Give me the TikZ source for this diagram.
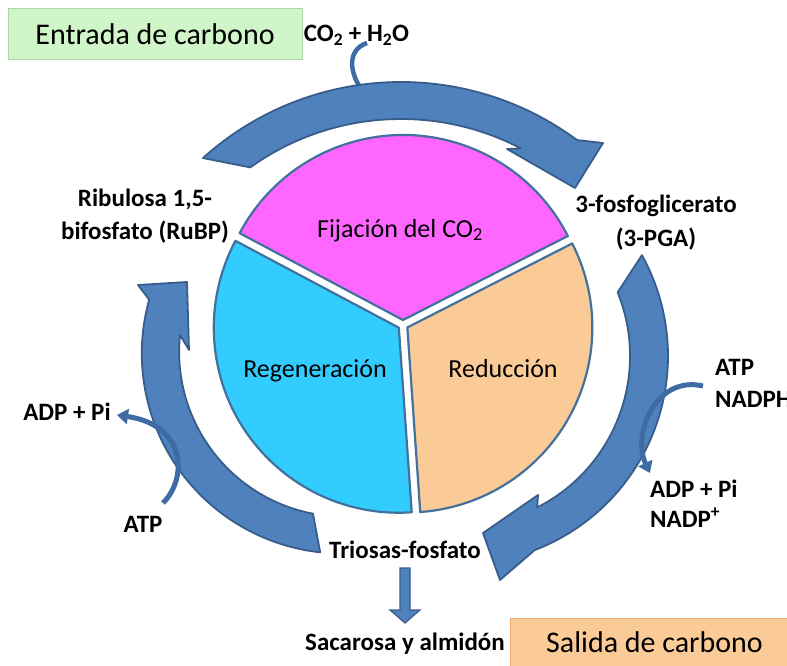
\documentclass[tikz,border=0pt]{standalone}
\usepackage{fontspec}
\setmainfont{Carlito}
\usetikzlibrary{arrows.meta}
\definecolor{arrfill}{HTML}{4F81BD}
\definecolor{arredge}{HTML}{385D8A}
\definecolor{smallarr}{HTML}{3E6BA3}
\definecolor{secedge}{HTML}{41719C}
\definecolor{pinkc}{HTML}{FF66FF}
\definecolor{bluec}{HTML}{33CCFF}
\definecolor{peachc}{HTML}{FBCB97}
\definecolor{greenbox}{HTML}{D0F5C8}
\definecolor{greenedge}{HTML}{A8D9A0}
\definecolor{peachedge}{HTML}{EDAA70}
\begin{document}
\begin{tikzpicture}[x=1pt,y=-1pt,
  lbl/.style={font=\fontsize{25}{30}\selectfont\bfseries, inner sep=0pt, anchor=base},
  inlbl/.style={font=\fontsize{26}{30}\selectfont, inner sep=0pt, anchor=base},
  ttl/.style={font=\fontsize{30}{36}\selectfont, inner sep=0pt, anchor=base},
  bigarrow/.style={fill=arrfill, draw=arredge, line width=1.8pt, line join=round},
  sector/.style={draw=secedge, line width=2.2pt, line join=round},
  thinarr/.style={draw=smallarr, line width=5pt},
  tipA/.style={-{Triangle[length=11pt,width=15pt]}}]
\useasboundingbox (0,0) rectangle (787,666);
\clip (0,0) rectangle (787,666);
\fill[white] (0,0) rectangle (787,666);

% title boxes
\node[draw=greenedge, fill=greenbox, line width=1pt, minimum width=294pt, minimum height=51pt, inner sep=0pt] (entradabox) at (155,34.5) {};
\node[ttl] (entrada) at (155,45) {Entrada de carbono};
\filldraw[draw=peachedge, fill=peachc, line width=1pt] (510,618) rectangle (800,690);
\node[ttl] (salida) at (654.5,652) {Salida de carbono};

% pie sectors
\filldraw[sector, fill=pinkc, shift={(0,-5)}] (403,325) -- ++(208:185) arc[start angle=208, end angle=333, radius=185] -- cycle;
\filldraw[sector, fill=bluec, shift={(-4.2,2.7)}] (403,325) -- ++(86:185) arc[start angle=86, end angle=208, radius=185] -- cycle;
\filldraw[sector, fill=peachc, shift={(4.35,2.46)}] (403,325) -- ++(-27:185) arc[start angle=-27, end angle=86, radius=185] -- cycle;

\node[inlbl] (fij) at (400,237) {Fijación del CO\textsubscript{2}};
\node[inlbl] (regen) at (315,377) {Regeneración};
\node[inlbl] (reduc) at (503,377) {Reducción};

% CO2 input arrow (under the big arrow)
\coordinate (co2s) at (367,43);
\coordinate (co2e) at (362,90);
\draw[draw=smallarr, line width=4.5pt] (co2s) .. controls (346,50) and (350,74) .. (co2e);

% big cycle arrows
\filldraw[bigarrow] ([shift={(401,378)}]228:296) arc[start angle=228, end angle=306.5, radius=296]
  -- (603,143) -- (575,188) -- (507,149) -- ([shift={(401,378)}]297.6:259)
  arc[start angle=297.6, end angle=234.4, radius=259] -- cycle;
\filldraw[bigarrow] ([shift={(460,356)}]-29:208) arc[start angle=-29, end angle=69, radius=208]
  -- (500,580) -- (483,533) -- (538,495) -- ([shift={(460,356)}]63:170)
  arc[start angle=63, end angle=-22, radius=170] -- cycle;
\filldraw[bigarrow] ([shift={(342,351.5)}]96.2:202) arc[start angle=96.2, end angle=195.6, radius=200]
  -- (138,285) -- (187,282) -- (189,350) -- (180,335)
  arc[start angle=185.8, end angle=100.9, radius=165] -- cycle;

% down arrow
\filldraw[fill=arrfill, draw=arredge, line width=1.2pt, line join=miter]
  (400,568) -- (410,568) -- (410,610) -- (420,610) -- (405,623) -- (390,610) -- (400,610) -- cycle;

% labels
\node[lbl] (co2) at (356.5,42) {CO\textsubscript{2} + H\textsubscript{2}O};
\node[lbl] (rubp1) at (145,206) {Ribulosa 1,5-};
\node[lbl] (rubp2) at (145,239) {bifosfato (RuBP)};
\node[lbl] (pga1) at (656,212) {3-fosfoglicerato};
\node[lbl] (pga2) at (656,246) {(3-PGA)};
\node[lbl, anchor=base west] (atpR) at (715,375) {ATP};
\node[lbl, anchor=base west] (nadph) at (715,407) {NADPH};
\node[lbl, anchor=base west] (adpR) at (650,497) {ADP + Pi};
\node[lbl, anchor=base west] (nadp) at (650,527) {NADP\textsuperscript{+}};
\node[lbl] (adpL) at (67,420) {ADP + Pi};
\node[lbl] (atpL) at (143,532) {ATP};
\node[lbl] (triosas) at (405,558) {Triosas-fosfato};
\node[lbl] (sacarosa) at (405,650) {Sacarosa y almidón};

% small side arrows
\coordinate (atpLs) at (163,503);
\coordinate (adpLe) at (117,415);
\draw[thinarr, tipA] (atpLs) .. controls (188,478) and (186,425) .. (adpLe);
\coordinate (atpRs) at (703,386);
\coordinate (adpRe) at (650,473);
\draw[thinarr, tipA] (atpRs) .. controls (655,375) and (632,435) .. (adpRe);
\end{tikzpicture}
\end{document}
